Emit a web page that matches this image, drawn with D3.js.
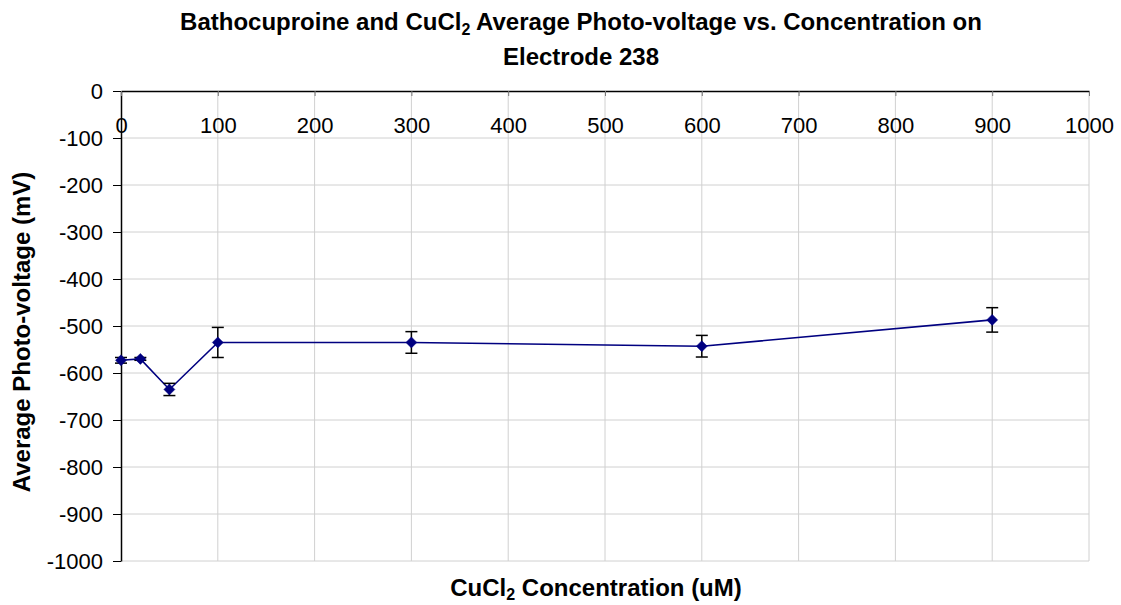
<!DOCTYPE html>
<head>
	<meta charset="UTF-8">
	<script src="https://d3js.org/d3.v7.min.js"></script>
	<title>Bathocuproine and CuCl2 Average Photo-voltage</title>
<style>
	body{
		margin: 0;
		background-color: #fff;
	}
	svg{
		display: block;
		font-family: 'Liberation Sans', Arial, sans-serif;
	}
</style>
</head>

<body>
	<svg width=1121 height=605></svg>
</body>

<script>
	// Chart data
	var concentrations = [0, 20, 50, 100, 300, 600, 900];
	var voltages = [-573, -570, -635, -535, -535, -543, -487];
	var errors = [6, 3, 13, 32, 23, 23, 26];
	var xTicks = [0, 100, 200, 300, 400, 500, 600, 700, 800, 900, 1000];
	var yTicks = [0, -100, -200, -300, -400, -500, -600, -700, -800, -900, -1000];

	var navy = "#000080";
	var gridGray = "#d0d0d0";
	var tickFont = 22;
	var titleFont = 24;

	var svg = d3.select("svg");

	// Plot area
	var plotLeft = 121, plotRight = 1089, plotTop = 91, plotBottom = 561;

	var x = d3.scaleLinear().domain([0, 1000]).range([plotLeft, plotRight]);
	var y = d3.scaleLinear().domain([-1000, 0]).range([plotBottom, plotTop]);

	// Gridlines
	var grid = svg.append("g").attr("id", "grid");
	grid.selectAll(".hgrid")
		.data(yTicks.filter(d => d != 0)).enter()
		.append("line")
		.attr("x1", plotLeft).attr("x2", plotRight)
		.attr("y1", d => y(d)).attr("y2", d => y(d))
		.attr("stroke", gridGray)
		.attr("stroke-width", 1);
	grid.selectAll(".vgrid")
		.data(xTicks.filter(d => d != 0)).enter()
		.append("line")
		.attr("x1", d => x(d)).attr("x2", d => x(d))
		.attr("y1", plotTop).attr("y2", plotBottom)
		.attr("stroke", gridGray)
		.attr("stroke-width", 1);

	// Y axis (left)
	var yAxis = svg.append("g")
		.attr("transform", "translate(" + plotLeft + ",0)")
		.call(d3.axisLeft(y).tickValues(yTicks).tickFormat(d => String(d))
			.tickSize(8).tickPadding(10).tickSizeOuter(0));
	yAxis.select(".domain").attr("stroke", "#000").attr("stroke-width", 1.5);
	yAxis.selectAll(".tick line").attr("stroke", "#000");
	yAxis.selectAll("text")
		.attr("font-size", tickFont)
		.attr("font-family", "'Liberation Sans', Arial, sans-serif")
		.attr("fill", "#000");

	// X axis sits at y = 0 (top of the plot), labels below it
	var xAxis = svg.append("g")
		.attr("transform", "translate(0," + y(0) + ")")
		.call(d3.axisBottom(x).tickValues(xTicks).tickFormat(d => String(d))
			.tickSize(5).tickPadding(21).tickSizeOuter(0));
	xAxis.select(".domain").attr("stroke", "#000").attr("stroke-width", 1.5);
	xAxis.selectAll(".tick line").attr("stroke", "#777");
	xAxis.selectAll("text")
		.attr("font-size", tickFont)
		.attr("font-family", "'Liberation Sans', Arial, sans-serif")
		.attr("fill", "#000");

	var points = concentrations.map((c, i) => ({x: c, y: voltages[i], e: errors[i]}));

	// Series line
	svg.append("path")
		.datum(points)
		.attr("fill", "none")
		.attr("stroke", navy)
		.attr("stroke-width", 1.6)
		.attr("d", d3.line().x(d => x(d.x)).y(d => y(d.y)));

	// Error bars
	var err = svg.append("g").attr("id", "errorbars")
		.attr("stroke", "#000").attr("stroke-width", 1.5);
	err.selectAll(".stem")
		.data(points).enter()
		.append("line")
		.attr("x1", d => x(d.x)).attr("x2", d => x(d.x))
		.attr("y1", d => y(d.y + d.e)).attr("y2", d => y(d.y - d.e));
	err.selectAll(".capTop")
		.data(points).enter()
		.append("line")
		.attr("x1", d => x(d.x) - 6).attr("x2", d => x(d.x) + 6)
		.attr("y1", d => y(d.y + d.e)).attr("y2", d => y(d.y + d.e));
	err.selectAll(".capBottom")
		.data(points).enter()
		.append("line")
		.attr("x1", d => x(d.x) - 6).attr("x2", d => x(d.x) + 6)
		.attr("y1", d => y(d.y - d.e)).attr("y2", d => y(d.y - d.e));

	// Diamond markers
	svg.append("g").attr("id", "markers")
		.selectAll("path")
		.data(points).enter()
		.append("path")
		.attr("d", "M0,-5.5L5.5,0L0,5.5L-5.5,0Z")
		.attr("transform", d => "translate(" + x(d.x) + "," + y(d.y) + ")")
		.attr("fill", navy)
		.attr("stroke", navy)
		.attr("stroke-width", 0.5);

	// Title
	var title = svg.append("text")
		.attr("text-anchor", "middle")
		.attr("font-size", titleFont)
		.attr("font-weight", "bold")
		.attr("fill", "#000");
	var t1 = title.append("tspan").attr("x", 581).attr("y", 30);
	t1.append("tspan").text("Bathocuproine and CuCl");
	t1.append("tspan").text("2").attr("font-size", 16).attr("dy", 5);
	t1.append("tspan").text(" Average Photo-voltage vs. Concentration on").attr("dy", -5);
	title.append("tspan").attr("x", 581).attr("y", 65).text("Electrode 238");

	// X axis title
	var xTitle = svg.append("text")
		.attr("x", 596)
		.attr("y", 596)
		.attr("text-anchor", "middle")
		.attr("font-size", titleFont)
		.attr("font-weight", "bold")
		.attr("fill", "#000");
	xTitle.append("tspan").text("CuCl");
	xTitle.append("tspan").text("2").attr("font-size", 16).attr("dy", 4);
	xTitle.append("tspan").text(" Concentration (uM)").attr("dy", -4);

	// Y axis title
	svg.append("text")
		.attr("transform", "translate(30,332) rotate(-90)")
		.attr("text-anchor", "middle")
		.attr("font-size", titleFont)
		.attr("font-weight", "bold")
		.attr("fill", "#000")
		.text("Average Photo-voltage (mV)");
</script>
